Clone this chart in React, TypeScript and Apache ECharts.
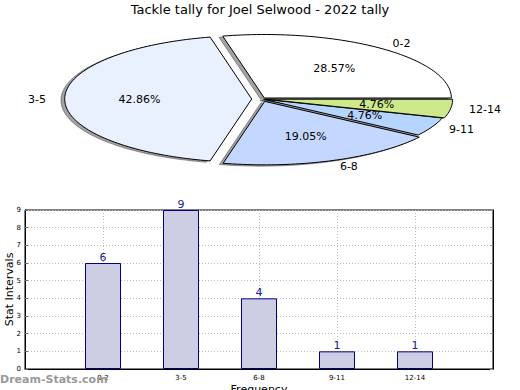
import React, { useEffect, useRef } from "react";
import * as echarts from "echarts";

const categories = ["0-2", "3-5", "6-8", "9-11", "12-14"];
const frequencies = [6, 9, 4, 1, 1];
const explode = [0.02, 0.055, 0.04, 0.01, 0.02];
const pieColors = ["#ffffff", "#eaf1fe", "#c4d8ff", "#b5d4fe", "#cde989"];
const yTicks = [0, 1, 2, 3, 4, 5, 6, 7, 8, 9];

const FONT = "DejaVu Sans";

export default function App() {
  const ref = useRef<HTMLDivElement>(null);
  useEffect(() => {
    if (!ref.current) return;
    document.body.style.margin = "0";
    const chart = echarts.init(ref.current, null, { renderer: "svg" });
    const total = frequencies.reduce((a, b) => a + b, 0);
    const cum: number[] = [];
    let acc = 0;
    frequencies.forEach((v) => {
      cum.push(acc);
      acc += v;
    });
    const CX = 262;
    const CY = 99;
    const RX = 187;
    const RY = 63.5;

    const geom = (idx: number) => {
      const v = frequencies[idx];
      const a1 = (cum[idx] / total) * Math.PI * 2;
      const a2 = ((cum[idx] + v) / total) * Math.PI * 2;
      const mid = (a1 + a2) / 2;
      const e = explode[idx];
      const ox = CX + Math.cos(mid) * e * RX;
      const oy = CY - Math.sin(mid) * e * RY;
      return { a1, a2, mid, ox, oy, v };
    };

    const wedgePoints = (ox: number, oy: number, a1: number, a2: number) => {
      const pts: number[][] = [[ox, oy]];
      const n = Math.max(4, Math.ceil(((a2 - a1) / (Math.PI * 2)) * 240));
      for (let i = 0; i <= n; i++) {
        const a = a1 + ((a2 - a1) * i) / n;
        pts.push([ox + Math.cos(a) * RX, oy - Math.sin(a) * RY]);
      }
      return pts;
    };

    const shadowRender = (params: any) => {
      const g = geom(params.dataIndex);
      return {
        type: "polygon",
        shape: { points: wedgePoints(g.ox - 0.02 * RX, g.oy + 0.02 * RY, g.a1, g.a2) },
        style: { fill: "rgba(70,70,70,0.5)", stroke: "rgba(70,70,70,0.5)", lineWidth: 1 },
        silent: true,
      };
    };

    const sliceRender = (params: any, api: any) => {
      const idx = params.dataIndex;
      const g = geom(idx);
      const pct = ((api.value(0) / total) * 100).toFixed(2) + "%";
      const lx = g.ox + Math.cos(g.mid) * 1.1 * RX;
      const ly = g.oy - Math.sin(g.mid) * 1.1 * RY;
      const px = g.ox + Math.cos(g.mid) * 0.6 * RX;
      const py = g.oy - Math.sin(g.mid) * 0.6 * RY;
      return {
        type: "group",
        children: [
          {
            type: "polygon",
            shape: { points: wedgePoints(g.ox, g.oy, g.a1, g.a2) },
            style: { fill: pieColors[idx], stroke: "#000", lineWidth: 1, lineJoin: "miter" },
          },
          {
            type: "text",
            x: px,
            y: py,
            z2: 10,
            style: {
              text: pct,
              fill: "#000",
              font: `11px "${FONT}"`,
              align: "center",
              verticalAlign: "middle",
            },
          },
          {
            type: "text",
            x: lx,
            y: ly,
            z2: 10,
            style: {
              text: categories[idx],
              fill: "#000",
              font: `11px "${FONT}"`,
              align: Math.cos(g.mid) >= 0 ? "left" : "right",
              verticalAlign: "middle",
            },
          },
        ],
      };
    };

    chart.setOption({
      animation: false,
      backgroundColor: "#fff",
      title: {
        text: "Tackle tally for Joel Selwood - 2022 tally",
        left: "center",
        top: 0,
        padding: 3,
        textStyle: { fontFamily: FONT, fontSize: 13, fontWeight: "normal", color: "#000" },
      },
      grid: {
        left: 25,
        right: 27,
        top: 210,
        bottom: 21,
        outerBoundsMode: "none",
        containLabel: false,
        show: true,
        borderColor: "#000",
        borderWidth: 1,
        backgroundColor: "transparent",
      },
      xAxis: {
        type: "value",
        min: 0,
        max: 6,
        interval: 1,
        name: "Frequency",
        nameLocation: "middle",
        nameGap: 15,
        nameMoveOverlap: false,
        nameTextStyle: { fontFamily: FONT, fontSize: 11, color: "#000" },
        axisLine: { show: true, lineStyle: { color: "#000" } },
        axisTick: { show: false },
        axisLabel: {
          fontFamily: FONT,
          fontSize: 7,
          color: "#000",
          margin: 5,
          formatter: (v: number) => categories[v - 1] ?? "",
        },
        splitLine: { show: true, lineStyle: { color: "#bbb", type: [1, 2], width: 1 } },
      },
      yAxis: [
        {
          type: "value",
          min: yTicks[0],
          max: yTicks[yTicks.length - 1],
          interval: 1,
          name: "Stat Intervals",
          nameLocation: "middle",
          nameGap: 10,
          nameMoveOverlap: false,
          nameTextStyle: { fontFamily: FONT, fontSize: 11, color: "#000" },
          axisLine: { show: true, lineStyle: { color: "#000" } },
          axisTick: { show: true, inside: true, length: 3, lineStyle: { color: "#666" } },
          axisLabel: { fontFamily: FONT, fontSize: 7, color: "#000", margin: 4 },
          splitLine: { show: true, lineStyle: { color: "#bbb", type: [1, 2], width: 1 } },
        },
        {
          type: "value",
          position: "right",
          min: yTicks[0],
          max: yTicks[yTicks.length - 1],
          interval: 1,
          axisLine: { show: true, lineStyle: { color: "#000" } },
          axisTick: { show: true, inside: true, length: 3, lineStyle: { color: "#999" } },
          axisLabel: { show: false },
          splitLine: { show: false },
        },
      ],
      graphic: [
        {
          type: "text",
          left: 0,
          top: 374,
          style: {
            text: "Dream-Stats.com",
            fill: "#999",
            font: `bold 11px "${FONT}"`,
          },
          z: 100,
        },
      ],
      series: [
        {
          type: "bar",
          data: frequencies.map((v, i) => [i + 1, v]),
          barWidth: 36,
          itemStyle: { color: "#cdcde4", borderColor: "#000080", borderWidth: 1 },
          label: {
            show: true,
            position: "top",
            distance: 0,
            color: "#1a1a9c",
            fontFamily: FONT,
            fontSize: 11,
            formatter: (p: any) => String(p.value[1]),
          },
          z: 3,
        },
        {
          type: "custom",
          coordinateSystem: "none",
          data: frequencies.map((v) => [v]),
          renderItem: shadowRender,
          silent: true,
          z: 1,
        },
        {
          type: "custom",
          coordinateSystem: "none",
          data: frequencies.map((v) => [v]),
          renderItem: sliceRender,
          z: 2,
        },
      ],
    });
    return () => chart.dispose();
  }, []);
  return <div ref={ref} style={{ position: "absolute", left: 0, top: 0, width: 520, height: 390 }} />;
}
